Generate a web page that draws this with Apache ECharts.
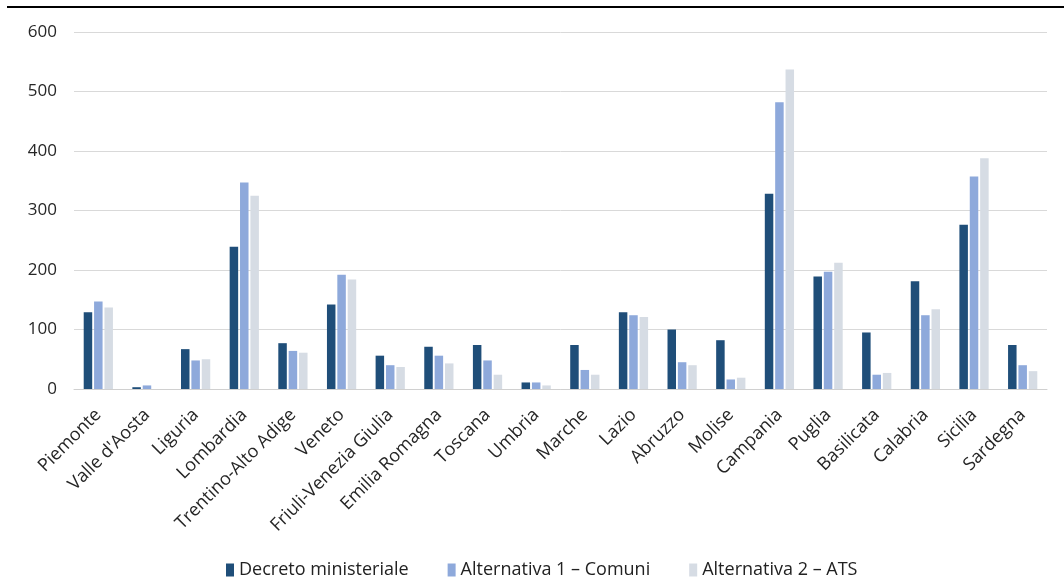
<!DOCTYPE html>
<html><head><meta charset="utf-8">
<script src="https://cdn.jsdelivr.net/npm/echarts@6/dist/echarts.min.js"></script>
<style>html,body{margin:0;padding:0;background:#fff}#c{width:1064px;height:585px}</style>
</head><body><div id="c"></div>
<script>
const categories = ["Piemonte","Valle d'Aosta","Liguria","Lombardia","Trentino-Alto Adige","Veneto","Friuli-Venezia Giulia","Emilia Romagna","Toscana","Umbria","Marche","Lazio","Abruzzo","Molise","Campania","Puglia","Basilicata","Calabria","Sicilia","Sardegna"];
const decreto = [129,3,67,239,77,142,56,71,74,11,74,129,100,82,328,189,95,181,276,74];
const alt1 = [147,6,48,347,64,192,40,56,48,11,32,124,45,16,482,197,24,124,357,40];
const alt2 = [137,0,50,325,61,184,37,43,24,6,24,121,40,19,537,212,27,134,388,30];
const seriesNames = ["Decreto ministeriale","Alternativa 1 – Comuni","Alternativa 2 – ATS"];
const colors = ["#1F4E79","#8EA9DB","#D6DCE4"];

const chart = echarts.init(document.getElementById('c'));
const font = "'Open Sans', 'DejaVu Sans', sans-serif";
chart.setOption({
  animation:false,
  textStyle:{fontFamily:font},
  graphic:[{type:'rect',left:7,top:6,shape:{width:1057,height:2},style:{fill:'#000'}}],
  grid:{left:74,right:17,top:32,bottom:196},
  legend:{bottom:1,left:221,itemWidth:8,itemHeight:13,itemGap:39,icon:'rect',
    textStyle:{fontSize:18,color:'#222',fontFamily:font},
    data:seriesNames},
  xAxis:{type:'category',data:categories,
    axisLine:{lineStyle:{color:'#d0d0d0'}},axisTick:{show:false},
    axisLabel:{rotate:45,interval:0,fontSize:18,color:'#262626',margin:23}},
  yAxis:{type:'value',min:0,max:600,interval:100,
    axisLabel:{fontSize:17,color:'#262626',margin:17},
    splitLine:{lineStyle:{color:'#d9d9d9'}}},
  series:[decreto,alt1,alt2].map((d,i)=>({
    name:seriesNames[i],type:'bar',data:d,barWidth:8.5,barGap:'22%',
    itemStyle:{color:colors[i]}
  }))
});
</script></body></html>
